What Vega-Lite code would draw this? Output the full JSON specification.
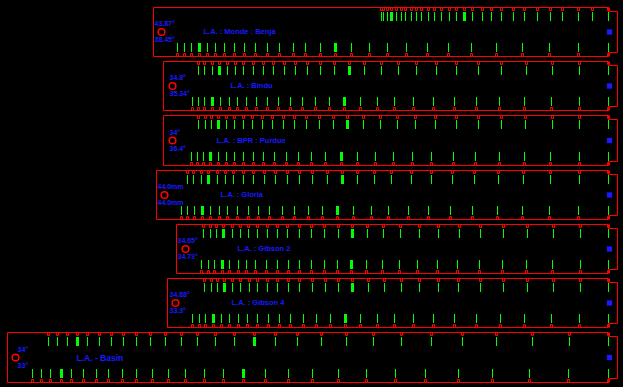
{
"$schema":"https://vega.github.io/schema/vega-lite/v6.json",
"width":623,"height":387,
"autosize":{"type":"fit","contains":"padding"},
"padding":0,
"background":"#000000",
"config":{"view":{"stroke":null}},
"datasets":{
"panels":[
{"panel":1,"left":153,"top":7,"bottom":56,"cx":161,"tx":154,"lx":203,"above":"43.87°","below":"38.45°","label":"L.A. : Monde : Benja"},
{"panel":2,"left":163,"top":61,"bottom":110,"cx":172,"tx":169,"lx":230,"above":"34.8°","below":"35.34°","label":"L.A. : Bindu"},
{"panel":3,"left":163,"top":115,"bottom":165,"cx":172,"tx":169,"lx":216,"above":"34°","below":"36.4°","label":"L.A. : BPR : Purdue"},
{"panel":4,"left":156,"top":170,"bottom":219,"cx":164,"tx":157,"lx":220,"above":"44.0mm","below":"44.0mm","label":"L.A. : Gloria"},
{"panel":5,"left":176,"top":224,"bottom":273,"cx":185,"tx":177,"lx":237,"above":"34.65°","below":"34.73°","label":"L.A. : Gibson 2"},
{"panel":6,"left":167,"top":278,"bottom":327,"cx":175,"tx":169,"lx":231,"above":"34.88°","below":"33.3°","label":"L.A. : Gibson 4"},
{"panel":7,"left":7,"top":332,"bottom":382,"cx":15,"tx":17,"lx":76,"above":"34°","below":"33°","label":"L.A. - Basin"}
],
"ticks":[
{"p":1,"r":"t","x":381,"m":0},{"p":1,"r":"t","x":383,"m":0},{"p":1,"r":"t","x":387,"m":0},{"p":1,"r":"t","x":391,"m":1},{"p":1,"r":"t","x":396,"m":0},{"p":1,"r":"t","x":401,"m":0},{"p":1,"r":"t","x":405,"m":0},{"p":1,"r":"t","x":411,"m":0},{"p":1,"r":"t","x":416,"m":0},{"p":1,"r":"t","x":421,"m":0},{"p":1,"r":"t","x":428,"m":0},{"p":1,"r":"t","x":434,"m":0},{"p":1,"r":"t","x":441,"m":0},{"p":1,"r":"t","x":449,"m":0},{"p":1,"r":"t","x":456,"m":0},{"p":1,"r":"t","x":464,"m":1},{"p":1,"r":"t","x":472,"m":0},{"p":1,"r":"t","x":482,"m":0},{"p":1,"r":"t","x":491,"m":0},{"p":1,"r":"t","x":501,"m":0},{"p":1,"r":"t","x":513,"m":0},{"p":1,"r":"t","x":524,"m":0},{"p":1,"r":"t","x":537,"m":0},{"p":1,"r":"t","x":550,"m":0},{"p":1,"r":"t","x":562,"m":0},{"p":1,"r":"t","x":578,"m":0},{"p":1,"r":"t","x":592,"m":0},{"p":1,"r":"t","x":608,"m":0},
{"p":1,"r":"b","x":177,"m":0},{"p":1,"r":"b","x":184,"m":0},{"p":1,"r":"b","x":191,"m":0},{"p":1,"r":"b","x":199,"m":1},{"p":1,"r":"b","x":207,"m":0},{"p":1,"r":"b","x":215,"m":0},{"p":1,"r":"b","x":224,"m":0},{"p":1,"r":"b","x":234,"m":0},{"p":1,"r":"b","x":244,"m":0},{"p":1,"r":"b","x":255,"m":0},{"p":1,"r":"b","x":267,"m":0},{"p":1,"r":"b","x":279,"m":0},{"p":1,"r":"b","x":293,"m":0},{"p":1,"r":"b","x":305,"m":0},{"p":1,"r":"b","x":320,"m":0},{"p":1,"r":"b","x":335,"m":1},{"p":1,"r":"b","x":351,"m":0},{"p":1,"r":"b","x":369,"m":0},{"p":1,"r":"b","x":387,"m":0},{"p":1,"r":"b","x":406,"m":0},{"p":1,"r":"b","x":427,"m":0},{"p":1,"r":"b","x":448,"m":0},{"p":1,"r":"b","x":471,"m":0},{"p":1,"r":"b","x":496,"m":0},{"p":1,"r":"b","x":522,"m":0},{"p":1,"r":"b","x":549,"m":0},{"p":1,"r":"b","x":578,"m":0},{"p":1,"r":"b","x":608,"m":0},
{"p":2,"r":"t","x":198,"m":0},{"p":2,"r":"t","x":204,"m":0},{"p":2,"r":"t","x":212,"m":0},{"p":2,"r":"t","x":219,"m":1},{"p":2,"r":"t","x":227,"m":0},{"p":2,"r":"t","x":235,"m":0},{"p":2,"r":"t","x":243,"m":0},{"p":2,"r":"t","x":253,"m":0},{"p":2,"r":"t","x":263,"m":0},{"p":2,"r":"t","x":273,"m":0},{"p":2,"r":"t","x":284,"m":0},{"p":2,"r":"t","x":295,"m":0},{"p":2,"r":"t","x":307,"m":0},{"p":2,"r":"t","x":320,"m":0},{"p":2,"r":"t","x":334,"m":0},{"p":2,"r":"t","x":349,"m":1},{"p":2,"r":"t","x":364,"m":0},{"p":2,"r":"t","x":381,"m":0},{"p":2,"r":"t","x":398,"m":0},{"p":2,"r":"t","x":416,"m":0},{"p":2,"r":"t","x":436,"m":0},{"p":2,"r":"t","x":456,"m":0},{"p":2,"r":"t","x":478,"m":0},{"p":2,"r":"t","x":501,"m":0},{"p":2,"r":"t","x":526,"m":0},{"p":2,"r":"t","x":552,"m":0},{"p":2,"r":"t","x":579,"m":0},{"p":2,"r":"t","x":608,"m":0},
{"p":2,"r":"b","x":192,"m":0},{"p":2,"r":"b","x":198,"m":0},{"p":2,"r":"b","x":204,"m":0},{"p":2,"r":"b","x":212,"m":1},{"p":2,"r":"b","x":220,"m":0},{"p":2,"r":"b","x":229,"m":0},{"p":2,"r":"b","x":237,"m":0},{"p":2,"r":"b","x":246,"m":0},{"p":2,"r":"b","x":256,"m":0},{"p":2,"r":"b","x":267,"m":0},{"p":2,"r":"b","x":278,"m":0},{"p":2,"r":"b","x":290,"m":0},{"p":2,"r":"b","x":302,"m":0},{"p":2,"r":"b","x":315,"m":0},{"p":2,"r":"b","x":329,"m":0},{"p":2,"r":"b","x":344,"m":1},{"p":2,"r":"b","x":360,"m":0},{"p":2,"r":"b","x":377,"m":0},{"p":2,"r":"b","x":394,"m":0},{"p":2,"r":"b","x":413,"m":0},{"p":2,"r":"b","x":433,"m":0},{"p":2,"r":"b","x":454,"m":0},{"p":2,"r":"b","x":476,"m":0},{"p":2,"r":"b","x":499,"m":0},{"p":2,"r":"b","x":524,"m":0},{"p":2,"r":"b","x":551,"m":0},{"p":2,"r":"b","x":579,"m":0},{"p":2,"r":"b","x":608,"m":0},
{"p":3,"r":"t","x":198,"m":0},{"p":3,"r":"t","x":205,"m":0},{"p":3,"r":"t","x":211,"m":0},{"p":3,"r":"t","x":218,"m":1},{"p":3,"r":"t","x":226,"m":0},{"p":3,"r":"t","x":234,"m":0},{"p":3,"r":"t","x":243,"m":0},{"p":3,"r":"t","x":252,"m":0},{"p":3,"r":"t","x":262,"m":0},{"p":3,"r":"t","x":272,"m":0},{"p":3,"r":"t","x":283,"m":0},{"p":3,"r":"t","x":294,"m":0},{"p":3,"r":"t","x":306,"m":0},{"p":3,"r":"t","x":319,"m":0},{"p":3,"r":"t","x":333,"m":0},{"p":3,"r":"t","x":347,"m":1},{"p":3,"r":"t","x":363,"m":0},{"p":3,"r":"t","x":380,"m":0},{"p":3,"r":"t","x":397,"m":0},{"p":3,"r":"t","x":415,"m":0},{"p":3,"r":"t","x":435,"m":0},{"p":3,"r":"t","x":456,"m":0},{"p":3,"r":"t","x":478,"m":0},{"p":3,"r":"t","x":501,"m":0},{"p":3,"r":"t","x":525,"m":0},{"p":3,"r":"t","x":552,"m":0},{"p":3,"r":"t","x":579,"m":0},{"p":3,"r":"t","x":608,"m":0},
{"p":3,"r":"b","x":191,"m":0},{"p":3,"r":"b","x":197,"m":0},{"p":3,"r":"b","x":203,"m":0},{"p":3,"r":"b","x":210,"m":1},{"p":3,"r":"b","x":218,"m":0},{"p":3,"r":"b","x":226,"m":0},{"p":3,"r":"b","x":234,"m":0},{"p":3,"r":"b","x":243,"m":0},{"p":3,"r":"b","x":253,"m":0},{"p":3,"r":"b","x":263,"m":0},{"p":3,"r":"b","x":274,"m":0},{"p":3,"r":"b","x":286,"m":0},{"p":3,"r":"b","x":298,"m":0},{"p":3,"r":"b","x":311,"m":0},{"p":3,"r":"b","x":325,"m":0},{"p":3,"r":"b","x":341,"m":1},{"p":3,"r":"b","x":357,"m":0},{"p":3,"r":"b","x":375,"m":0},{"p":3,"r":"b","x":393,"m":0},{"p":3,"r":"b","x":412,"m":0},{"p":3,"r":"b","x":431,"m":0},{"p":3,"r":"b","x":453,"m":0},{"p":3,"r":"b","x":475,"m":0},{"p":3,"r":"b","x":499,"m":0},{"p":3,"r":"b","x":524,"m":0},{"p":3,"r":"b","x":550,"m":0},{"p":3,"r":"b","x":579,"m":0},{"p":3,"r":"b","x":608,"m":0},
{"p":4,"r":"t","x":187,"m":0},{"p":4,"r":"t","x":193,"m":0},{"p":4,"r":"t","x":201,"m":0},{"p":4,"r":"t","x":208,"m":1},{"p":4,"r":"t","x":217,"m":0},{"p":4,"r":"t","x":225,"m":0},{"p":4,"r":"t","x":233,"m":0},{"p":4,"r":"t","x":243,"m":0},{"p":4,"r":"t","x":253,"m":0},{"p":4,"r":"t","x":264,"m":0},{"p":4,"r":"t","x":275,"m":0},{"p":4,"r":"t","x":287,"m":0},{"p":4,"r":"t","x":299,"m":0},{"p":4,"r":"t","x":312,"m":0},{"p":4,"r":"t","x":327,"m":0},{"p":4,"r":"t","x":342,"m":1},{"p":4,"r":"t","x":357,"m":0},{"p":4,"r":"t","x":374,"m":0},{"p":4,"r":"t","x":391,"m":0},{"p":4,"r":"t","x":411,"m":0},{"p":4,"r":"t","x":431,"m":0},{"p":4,"r":"t","x":452,"m":0},{"p":4,"r":"t","x":474,"m":0},{"p":4,"r":"t","x":498,"m":0},{"p":4,"r":"t","x":523,"m":0},{"p":4,"r":"t","x":550,"m":0},{"p":4,"r":"t","x":579,"m":0},{"p":4,"r":"t","x":608,"m":0},
{"p":4,"r":"b","x":181,"m":0},{"p":4,"r":"b","x":187,"m":0},{"p":4,"r":"b","x":194,"m":0},{"p":4,"r":"b","x":202,"m":1},{"p":4,"r":"b","x":210,"m":0},{"p":4,"r":"b","x":219,"m":0},{"p":4,"r":"b","x":227,"m":0},{"p":4,"r":"b","x":237,"m":0},{"p":4,"r":"b","x":248,"m":0},{"p":4,"r":"b","x":258,"m":0},{"p":4,"r":"b","x":269,"m":0},{"p":4,"r":"b","x":282,"m":0},{"p":4,"r":"b","x":294,"m":0},{"p":4,"r":"b","x":308,"m":0},{"p":4,"r":"b","x":322,"m":0},{"p":4,"r":"b","x":337,"m":1},{"p":4,"r":"b","x":353,"m":0},{"p":4,"r":"b","x":371,"m":0},{"p":4,"r":"b","x":388,"m":0},{"p":4,"r":"b","x":408,"m":0},{"p":4,"r":"b","x":428,"m":0},{"p":4,"r":"b","x":450,"m":0},{"p":4,"r":"b","x":472,"m":0},{"p":4,"r":"b","x":497,"m":0},{"p":4,"r":"b","x":522,"m":0},{"p":4,"r":"b","x":549,"m":0},{"p":4,"r":"b","x":578,"m":0},{"p":4,"r":"b","x":608,"m":0},
{"p":5,"r":"t","x":203,"m":0},{"p":5,"r":"t","x":210,"m":0},{"p":5,"r":"t","x":216,"m":0},{"p":5,"r":"t","x":223,"m":1},{"p":5,"r":"t","x":232,"m":0},{"p":5,"r":"t","x":240,"m":0},{"p":5,"r":"t","x":248,"m":0},{"p":5,"r":"t","x":257,"m":0},{"p":5,"r":"t","x":267,"m":0},{"p":5,"r":"t","x":277,"m":0},{"p":5,"r":"t","x":287,"m":0},{"p":5,"r":"t","x":299,"m":0},{"p":5,"r":"t","x":311,"m":0},{"p":5,"r":"t","x":324,"m":0},{"p":5,"r":"t","x":338,"m":0},{"p":5,"r":"t","x":352,"m":1},{"p":5,"r":"t","x":367,"m":0},{"p":5,"r":"t","x":383,"m":0},{"p":5,"r":"t","x":400,"m":0},{"p":5,"r":"t","x":419,"m":0},{"p":5,"r":"t","x":438,"m":0},{"p":5,"r":"t","x":459,"m":0},{"p":5,"r":"t","x":480,"m":0},{"p":5,"r":"t","x":503,"m":0},{"p":5,"r":"t","x":527,"m":0},{"p":5,"r":"t","x":553,"m":0},{"p":5,"r":"t","x":580,"m":0},{"p":5,"r":"t","x":608,"m":0},
{"p":5,"r":"b","x":201,"m":0},{"p":5,"r":"b","x":208,"m":0},{"p":5,"r":"b","x":214,"m":0},{"p":5,"r":"b","x":222,"m":1},{"p":5,"r":"b","x":229,"m":0},{"p":5,"r":"b","x":238,"m":0},{"p":5,"r":"b","x":246,"m":0},{"p":5,"r":"b","x":255,"m":0},{"p":5,"r":"b","x":266,"m":0},{"p":5,"r":"b","x":277,"m":0},{"p":5,"r":"b","x":288,"m":0},{"p":5,"r":"b","x":299,"m":0},{"p":5,"r":"b","x":311,"m":0},{"p":5,"r":"b","x":324,"m":0},{"p":5,"r":"b","x":337,"m":0},{"p":5,"r":"b","x":351,"m":1},{"p":5,"r":"b","x":366,"m":0},{"p":5,"r":"b","x":382,"m":0},{"p":5,"r":"b","x":399,"m":0},{"p":5,"r":"b","x":417,"m":0},{"p":5,"r":"b","x":437,"m":0},{"p":5,"r":"b","x":457,"m":0},{"p":5,"r":"b","x":479,"m":0},{"p":5,"r":"b","x":502,"m":0},{"p":5,"r":"b","x":526,"m":0},{"p":5,"r":"b","x":552,"m":0},{"p":5,"r":"b","x":580,"m":0},{"p":5,"r":"b","x":608,"m":0},
{"p":6,"r":"t","x":204,"m":0},{"p":6,"r":"t","x":211,"m":0},{"p":6,"r":"t","x":217,"m":0},{"p":6,"r":"t","x":224,"m":1},{"p":6,"r":"t","x":232,"m":0},{"p":6,"r":"t","x":240,"m":0},{"p":6,"r":"t","x":249,"m":0},{"p":6,"r":"t","x":257,"m":0},{"p":6,"r":"t","x":267,"m":0},{"p":6,"r":"t","x":277,"m":0},{"p":6,"r":"t","x":288,"m":0},{"p":6,"r":"t","x":299,"m":0},{"p":6,"r":"t","x":312,"m":0},{"p":6,"r":"t","x":325,"m":0},{"p":6,"r":"t","x":338,"m":0},{"p":6,"r":"t","x":352,"m":1},{"p":6,"r":"t","x":368,"m":0},{"p":6,"r":"t","x":384,"m":0},{"p":6,"r":"t","x":401,"m":0},{"p":6,"r":"t","x":419,"m":0},{"p":6,"r":"t","x":438,"m":0},{"p":6,"r":"t","x":458,"m":0},{"p":6,"r":"t","x":480,"m":0},{"p":6,"r":"t","x":503,"m":0},{"p":6,"r":"t","x":527,"m":0},{"p":6,"r":"t","x":553,"m":0},{"p":6,"r":"t","x":580,"m":0},{"p":6,"r":"t","x":608,"m":0},
{"p":6,"r":"b","x":192,"m":0},{"p":6,"r":"b","x":199,"m":0},{"p":6,"r":"b","x":205,"m":0},{"p":6,"r":"b","x":213,"m":1},{"p":6,"r":"b","x":221,"m":0},{"p":6,"r":"b","x":229,"m":0},{"p":6,"r":"b","x":238,"m":0},{"p":6,"r":"b","x":247,"m":0},{"p":6,"r":"b","x":257,"m":0},{"p":6,"r":"b","x":268,"m":0},{"p":6,"r":"b","x":279,"m":0},{"p":6,"r":"b","x":290,"m":0},{"p":6,"r":"b","x":303,"m":0},{"p":6,"r":"b","x":316,"m":0},{"p":6,"r":"b","x":330,"m":0},{"p":6,"r":"b","x":345,"m":1},{"p":6,"r":"b","x":360,"m":0},{"p":6,"r":"b","x":377,"m":0},{"p":6,"r":"b","x":394,"m":0},{"p":6,"r":"b","x":413,"m":0},{"p":6,"r":"b","x":433,"m":0},{"p":6,"r":"b","x":454,"m":0},{"p":6,"r":"b","x":476,"m":0},{"p":6,"r":"b","x":500,"m":0},{"p":6,"r":"b","x":524,"m":0},{"p":6,"r":"b","x":551,"m":0},{"p":6,"r":"b","x":579,"m":0},{"p":6,"r":"b","x":608,"m":0},
{"p":7,"r":"t","x":48,"m":0},{"p":7,"r":"t","x":57,"m":0},{"p":7,"r":"t","x":67,"m":0},{"p":7,"r":"t","x":77,"m":1},{"p":7,"r":"t","x":87,"m":0},{"p":7,"r":"t","x":99,"m":0},{"p":7,"r":"t","x":111,"m":0},{"p":7,"r":"t","x":123,"m":0},{"p":7,"r":"t","x":136,"m":0},{"p":7,"r":"t","x":150,"m":0},{"p":7,"r":"t","x":165,"m":0},{"p":7,"r":"t","x":181,"m":0},{"p":7,"r":"t","x":197,"m":0},{"p":7,"r":"t","x":215,"m":0},{"p":7,"r":"t","x":234,"m":0},{"p":7,"r":"t","x":254,"m":1},{"p":7,"r":"t","x":275,"m":0},{"p":7,"r":"t","x":297,"m":0},{"p":7,"r":"t","x":321,"m":0},{"p":7,"r":"t","x":346,"m":0},{"p":7,"r":"t","x":373,"m":0},{"p":7,"r":"t","x":401,"m":0},{"p":7,"r":"t","x":431,"m":0},{"p":7,"r":"t","x":462,"m":0},{"p":7,"r":"t","x":496,"m":0},{"p":7,"r":"t","x":532,"m":0},{"p":7,"r":"t","x":569,"m":0},{"p":7,"r":"t","x":608,"m":0},
{"p":7,"r":"b","x":32,"m":0},{"p":7,"r":"b","x":41,"m":0},{"p":7,"r":"b","x":50,"m":0},{"p":7,"r":"b","x":61,"m":1},{"p":7,"r":"b","x":71,"m":0},{"p":7,"r":"b","x":83,"m":0},{"p":7,"r":"b","x":96,"m":0},{"p":7,"r":"b","x":108,"m":0},{"p":7,"r":"b","x":122,"m":0},{"p":7,"r":"b","x":136,"m":0},{"p":7,"r":"b","x":152,"m":0},{"p":7,"r":"b","x":168,"m":0},{"p":7,"r":"b","x":185,"m":0},{"p":7,"r":"b","x":204,"m":0},{"p":7,"r":"b","x":223,"m":0},{"p":7,"r":"b","x":243,"m":1},{"p":7,"r":"b","x":265,"m":0},{"p":7,"r":"b","x":288,"m":0},{"p":7,"r":"b","x":312,"m":0},{"p":7,"r":"b","x":338,"m":0},{"p":7,"r":"b","x":366,"m":0},{"p":7,"r":"b","x":395,"m":0},{"p":7,"r":"b","x":425,"m":0},{"p":7,"r":"b","x":458,"m":0},{"p":7,"r":"b","x":492,"m":0},{"p":7,"r":"b","x":529,"m":0},{"p":7,"r":"b","x":568,"m":0},{"p":7,"r":"b","x":608,"m":0}
]
},
"layer":[
{"data":{"name":"panels"},"mark":{"type":"rule","color":"#ff0000","strokeWidth":1},
 "encoding":{"x":{"field":"left","type":"quantitative","scale":{"domain":[-0.5,622.5],"nice":false,"zero":false},"axis":null},"x2":{"datum":608},"y":{"field":"top","type":"quantitative","scale":{"domain":[-0.5,386.5],"reverse":true,"nice":false,"zero":false},"axis":null}}},
{"data":{"name":"panels"},"mark":{"type":"rule","color":"#ff0000","strokeWidth":1},
 "encoding":{"x":{"field":"left","type":"quantitative","axis":null},"x2":{"datum":608},"y":{"field":"bottom","type":"quantitative","axis":null}}},
{"data":{"name":"panels"},"mark":{"type":"rule","color":"#ff0000","strokeWidth":1},
 "encoding":{"x":{"field":"left","type":"quantitative","axis":null},"y":{"field":"top","type":"quantitative","axis":null},"y2":{"field":"bottom"}}},
{"data":{"name":"panels"},"mark":{"type":"rule","color":"#ff0000","strokeWidth":1,"yOffset":4,"y2Offset":-4},
 "encoding":{"x":{"datum":617,"type":"quantitative","axis":null},"y":{"field":"top","type":"quantitative","axis":null},"y2":{"field":"bottom"}}},
{"data":{"name":"panels"},"mark":{"type":"rule","color":"#ff0000","strokeWidth":1,"yOffset":4},
 "encoding":{"x":{"datum":608,"type":"quantitative","axis":null},"x2":{"datum":617},"y":{"field":"top","type":"quantitative","axis":null}}},
{"data":{"name":"panels"},"mark":{"type":"rule","color":"#ff0000","strokeWidth":1,"yOffset":-4},
 "encoding":{"x":{"datum":608,"type":"quantitative","axis":null},"x2":{"datum":617},"y":{"field":"bottom","type":"quantitative","axis":null}}},
{"data":{"name":"panels"},"mark":{"type":"rule","color":"#ff0000","strokeWidth":1,"y2Offset":4},
 "encoding":{"x":{"datum":608,"type":"quantitative","axis":null},"y":{"field":"top","type":"quantitative","axis":null},"y2":{"field":"top"}}},
{"data":{"name":"panels"},"mark":{"type":"rule","color":"#ff0000","strokeWidth":1,"y2Offset":-4},
 "encoding":{"x":{"datum":608,"type":"quantitative","axis":null},"y":{"field":"bottom","type":"quantitative","axis":null},"y2":{"field":"bottom"}}},
{"data":{"name":"ticks"},
 "transform":[{"filter":"datum.r=='t'"},{"lookup":"p","from":{"data":{"name":"panels"},"key":"panel","fields":["top","bottom"]}}],
 "mark":{"type":"point","shape":"M-1,-1.5L-1,1.5L1,1.5L1,-1.5","filled":false,"stroke":"#ff0000","strokeWidth":1,"size":4,"yOffset":1.5,"opacity":1},
 "encoding":{"x":{"field":"x","type":"quantitative","axis":null},"y":{"field":"top","type":"quantitative","axis":null}}},
{"data":{"name":"ticks"},
 "transform":[{"filter":"datum.r=='b'"},{"lookup":"p","from":{"data":{"name":"panels"},"key":"panel","fields":["top","bottom"]}}],
 "mark":{"type":"point","shape":"M-1,1.5L-1,-1.5L1,-1.5L1,1.5","filled":false,"stroke":"#ff0000","strokeWidth":1,"size":4,"yOffset":-1.5,"opacity":1},
 "encoding":{"x":{"field":"x","type":"quantitative","axis":null},"y":{"field":"bottom","type":"quantitative","axis":null}}},
{"data":{"name":"ticks"},
 "transform":[{"filter":"datum.r=='t'"},{"lookup":"p","from":{"data":{"name":"panels"},"key":"panel","fields":["top","bottom"]}}],
 "mark":{"type":"rule","color":"#00ff00","yOffset":4.5,"y2Offset":13.5},
 "encoding":{"x":{"field":"x","type":"quantitative","axis":null},"y":{"field":"top","type":"quantitative","axis":null},"y2":{"field":"top"},
  "strokeWidth":{"condition":{"test":"datum.m==1","value":3},"value":1}}},
{"data":{"name":"ticks"},
 "transform":[{"filter":"datum.r=='b'"},{"lookup":"p","from":{"data":{"name":"panels"},"key":"panel","fields":["top","bottom"]}}],
 "mark":{"type":"rule","color":"#00ff00","yOffset":-13.5,"y2Offset":-4.5},
 "encoding":{"x":{"field":"x","type":"quantitative","axis":null},"y":{"field":"bottom","type":"quantitative","axis":null},"y2":{"field":"bottom"},
  "strokeWidth":{"condition":{"test":"datum.m==1","value":3},"value":1}}},
{"data":{"name":"panels"},"transform":[{"calculate":"(datum.top+datum.bottom)/2","as":"mid"}],
 "mark":{"type":"point","shape":"circle","filled":false,"stroke":"#ff0000","strokeWidth":1.5,"size":45,"opacity":1},
 "encoding":{"x":{"field":"cx","type":"quantitative","axis":null},"y":{"field":"mid","type":"quantitative","axis":null}}},
{"data":{"name":"panels"},"transform":[{"calculate":"(datum.top+datum.bottom)/2","as":"mid"}],
 "mark":{"type":"text","align":"left","baseline":"middle","dy":-8,"font":"Liberation Sans","fontWeight":"bold","fontSize":7,"color":"#1a1aff"},
 "encoding":{"x":{"field":"tx","type":"quantitative","axis":null},"y":{"field":"mid","type":"quantitative","axis":null},"text":{"field":"above"}}},
{"data":{"name":"panels"},"transform":[{"calculate":"(datum.top+datum.bottom)/2","as":"mid"}],
 "mark":{"type":"text","align":"left","baseline":"middle","dy":8,"font":"Liberation Sans","fontWeight":"bold","fontSize":7,"color":"#1a1aff"},
 "encoding":{"x":{"field":"tx","type":"quantitative","axis":null},"y":{"field":"mid","type":"quantitative","axis":null},"text":{"field":"below"}}},
{"data":{"name":"panels"},"transform":[{"calculate":"(datum.top+datum.bottom)/2","as":"mid"}],
 "mark":{"type":"text","align":"left","baseline":"middle","font":"Liberation Sans","fontWeight":"bold","color":"#1a1aff"},
 "encoding":{"x":{"field":"lx","type":"quantitative","axis":null},"y":{"field":"mid","type":"quantitative","axis":null},"text":{"field":"label"},
  "size":{"condition":{"test":"datum.panel==7","value":8.5},"value":7.5}}},
{"data":{"name":"panels"},"transform":[{"calculate":"(datum.top+datum.bottom)/2","as":"mid"}],
 "mark":{"type":"point","shape":"square","filled":true,"color":"#1a1aff","size":28,"opacity":1},
 "encoding":{"x":{"datum":609,"type":"quantitative","axis":null},"y":{"field":"mid","type":"quantitative","axis":null}}}
]
}
